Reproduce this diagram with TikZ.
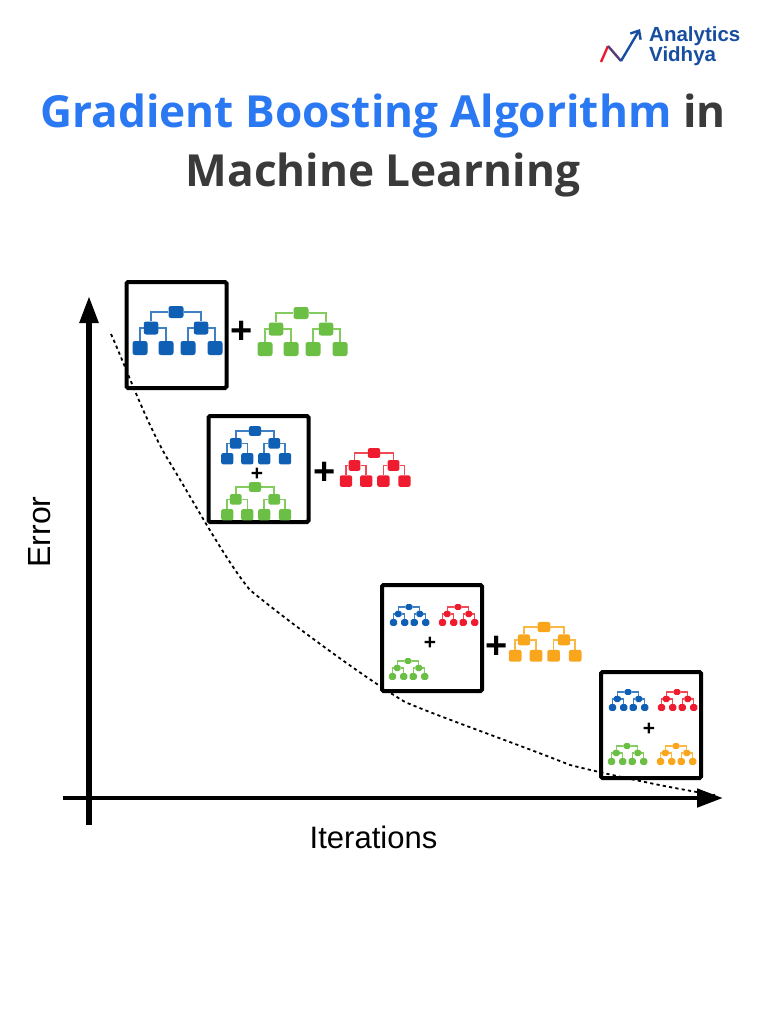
\documentclass[tikz,border=0pt]{standalone}
\usepackage{fontspec}
\setmainfont{Liberation Sans}
\newfontfamily\titlefont{Open Sans}
\usetikzlibrary{arrows.meta}
\definecolor{tblue}{HTML}{0F5FB4}\definecolor{lblue}{HTML}{3F7FC4}
\definecolor{tgreen}{HTML}{6CBF45}\definecolor{lgreen}{HTML}{85CC60}
\definecolor{tred}{HTML}{EE1C2E}\definecolor{lred}{HTML}{F04A55}
\definecolor{torange}{HTML}{F9A61C}\definecolor{lorange}{HTML}{FAB845}
\definecolor{titleblue}{HTML}{2A78F2}\definecolor{titledark}{HTML}{3A3A3A}
\definecolor{logoblue}{HTML}{174EA0}\definecolor{logopurple}{HTML}{5B3A78}
\tikzset{
  box/.style={draw=black,line width=4pt,rounded corners=1.5pt,minimum width=100pt,minimum height=106pt,inner sep=0pt},
  bigplus/.style={font=\fontsize{38}{38}\selectfont\bfseries,inner sep=0pt},
  smallplus/.style={font=\fontsize{21}{21}\selectfont\bfseries,inner sep=0pt},
  axisv/.style={line width=5.6pt,-{Triangle[length=27pt,width=18pt]}},
  axish/.style={line width=4.8pt,-{Triangle[length=26pt,width=18pt]}},
  trend/.style={line width=1.8pt,dash pattern=on 3.2pt off 3.2pt},
  logotext/.style={font=\fontsize{20.5}{20.5}\selectfont\bfseries,text=logoblue,inner sep=0pt,anchor=base west},
  titletext/.style={font=\titlefont\fontsize{44.2}{44.2}\selectfont\bfseries,text=titledark,anchor=base,inner sep=0pt}
}
% name, x, y, scale, fill, line colour, node-size factor, line width, corner radius
\newcommand{\treeat}[9]{%
  \begin{scope}[shift={(#2,#3)},scale=#4,transform shape,
      nd/.style 2 args={rounded corners=#9,inner sep=0pt,fill=#5,minimum width=#7*##1,minimum height=#7*##2}]
    \node[nd={15pt}{12pt}] (#1r) at (0,0) {};
    \node[nd={14.5pt}{13pt}] (#1a) at (-25,16) {};
    \node[nd={14.5pt}{13pt}] (#1b) at (25,16) {};
    \node[nd={15pt}{14pt}] (#1c) at (-36,36) {};
    \node[nd={15pt}{14pt}] (#1d) at (-10,36) {};
    \node[nd={15pt}{14pt}] (#1e) at (12,36) {};
    \node[nd={15pt}{14pt}] (#1f) at (39,36) {};
    \draw[#6,line width=#8] (#1r) -| (#1a);
    \draw[#6,line width=#8] (#1r) -| (#1b);
    \draw[#6,line width=#8] (#1a) -| (#1c);
    \draw[#6,line width=#8] (#1a) -| (#1d);
    \draw[#6,line width=#8] (#1b) -| (#1e);
    \draw[#6,line width=#8] (#1b) -| (#1f);
  \end{scope}}
\begin{document}
\begin{tikzpicture}[x=1pt,y=-1pt]
\useasboundingbox[fill=white] (0,0) rectangle (768,1024);
% title
\node[titletext] (t1) at (383,128) {\textcolor{titleblue}{Gradient Boosting Algorithm} in};
\node[titletext] (t2) at (383,187) {Machine Learning};
% logo
\coordinate (g0) at (601,62);\coordinate (g1) at (608,46);\coordinate (g2) at (621,61);\coordinate (g3) at (640,29);
\draw[line width=2.4pt,tred] (g0) -- (g1);
\draw[line width=2.4pt,logopurple] (g1) -- (g2);
\draw[line width=2.4pt,logoblue,-{Straight Barb[length=7pt,width=12pt]}] (g2) -- (g3);
\node[logotext] (l1) at (649,42) {Analytics};
\node[logotext] (l2) at (649,62) {Vidhya};
% axes
\coordinate (ya) at (89,825);\coordinate (yb) at (89,296);
\coordinate (xa) at (63,798);\coordinate (xb) at (723,798);
\draw[axisv] (ya) -- (yb);
\draw[axish] (xa) -- (xb);
\node[font=\fontsize{32}{32}\selectfont,inner sep=0pt,rotate=90] (ylab) at (40,532) {Error};
\node[font=\fontsize{31}{31}\selectfont,inner sep=0pt] (xlab) at (373.5,837) {Iterations};
% boxes
\node[box] (b1) at (176.5,335) {};
\node[box] (b2) at (258.5,469) {};
\node[box] (b3) at (432,638) {};
\node[box] (b4) at (651,725) {};
% trees
\treeat{a}{176}{312}{1}{tblue}{lblue}{1}{1.6pt}{2.4pt}
\treeat{b}{301}{313}{1}{tgreen}{lgreen}{1}{1.6pt}{2.4pt}
\treeat{c}{255}{431}{.77}{tblue}{lblue}{1.05}{1.6pt}{2pt}
\treeat{d}{255}{487}{.77}{tgreen}{lgreen}{1.05}{1.6pt}{2pt}
\treeat{e}{374}{453}{.78}{tred}{lred}{1.05}{1.6pt}{2pt}
\treeat{f}{409}{607}{.43}{tblue}{lblue}{1.12}{1.3pt}{1.8pt}
\treeat{g}{458}{607}{.43}{tred}{lred}{1.12}{1.3pt}{1.8pt}
\treeat{h}{408}{661}{.43}{tgreen}{lgreen}{1.12}{1.3pt}{1.8pt}
\treeat{i}{544}{627}{.8}{torange}{lorange}{1.05}{1.6pt}{2pt}
\treeat{j}{628}{692}{.43}{tblue}{lblue}{1.12}{1.3pt}{1.8pt}
\treeat{k}{677}{692}{.43}{tred}{lred}{1.12}{1.3pt}{1.8pt}
\treeat{m}{627}{746}{.43}{tgreen}{lgreen}{1.12}{1.3pt}{1.8pt}
\treeat{n}{676}{746}{.43}{torange}{lorange}{1.12}{1.3pt}{1.8pt}
% plus signs
\node[bigplus] (p1) at (242,332) {+};
\node[bigplus] (p2) at (324.5,473) {+};
\node[bigplus] (p3) at (497,647) {+};
\node[smallplus] (p4) at (257,474) {+};
\node[smallplus] (p5) at (430,643) {+};
\node[smallplus] (p6) at (649,729) {+};
% error curve
\draw[trend] (111,334) .. controls (125,365) and (145,420) .. (167,458)
  .. controls (190,495) and (225,560) .. (250,590)
  .. controls (280,615) and (360,675) .. (405,702)
  .. controls (440,717) and (520,745) .. (570,765)
  .. controls (610,775) and (670,788) .. (715,795);
\end{tikzpicture}
\end{document}
